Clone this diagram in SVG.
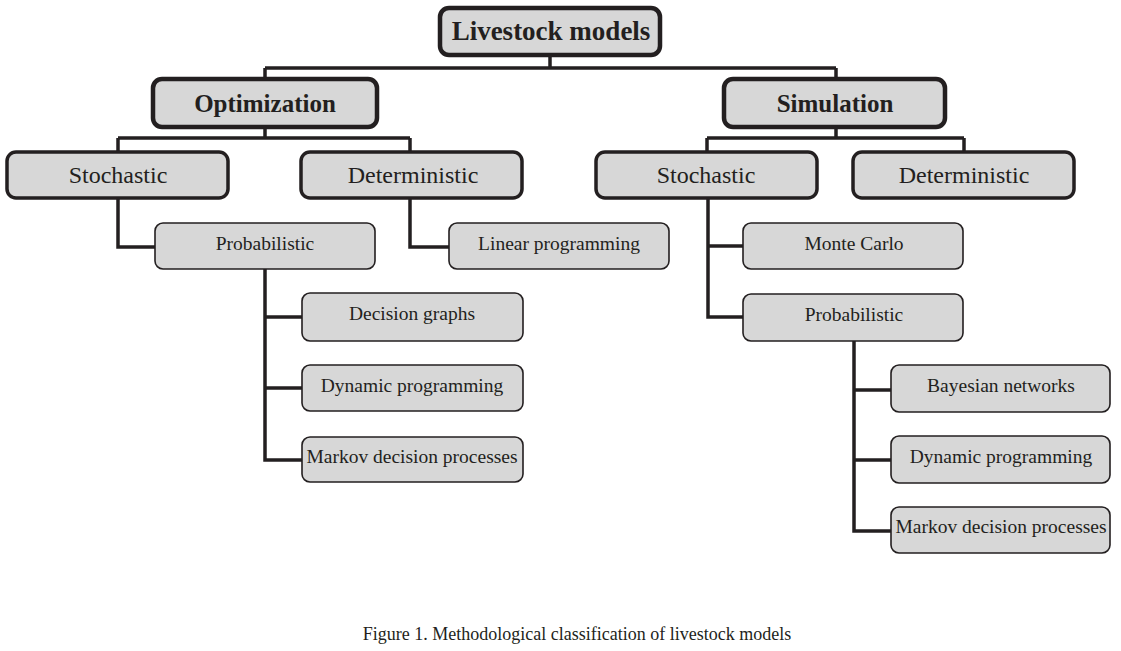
<svg xmlns="http://www.w3.org/2000/svg" width="1121" height="651" viewBox="0 0 1121 651">
<style>
.box{fill:#d7d7d7;stroke:#231f20}
.l1{stroke-width:4.5}
.l2{stroke-width:3.5}
.l3{stroke-width:1.6}
text{font-family:"Liberation Serif","Times New Roman",serif;fill:#231f20;text-anchor:middle;dominant-baseline:central}
.t1{font-size:27px;font-weight:bold}
.t2{font-size:25px;font-weight:bold}
.t3{font-size:24px}
.t4{font-size:19.5px}
.cap{font-size:18px}
#connectors path{fill:none;stroke:#231f20;stroke-width:3.5}
</style>
<rect width="1121" height="651" fill="#ffffff"/>
<g id="connectors">
<path d="M550 55V68M265 68H836M265 68V79M836 68V79"/>
<path d="M265 127V138M118 138H410M118 138V152M410 138V152"/>
<path d="M836 127V138M707 138H964M707 138V152M964 138V152"/>
<path d="M118 198V247H155"/>
<path d="M410 198V247H449"/>
<path d="M265 269V460H302M265 317H302M265 388H302"/>
<path d="M708 199V317H743M708 246H743"/>
<path d="M854 341V531H891M854 390H891M854 460H891"/>
</g>
<g id="livestock"><rect class="box l1" x="440" y="8" width="220" height="47" rx="9"/><text class="t1" x="551" y="31">Livestock models</text></g>
<g id="optimization"><rect class="box l1" x="153" y="79" width="224" height="48" rx="9"/><text class="t2" x="265" y="103">Optimization</text></g>
<g id="simulation"><rect class="box l1" x="724" y="79" width="221" height="48" rx="9"/><text class="t2" x="835" y="103">Simulation</text></g>
<g id="opt-stochastic"><rect class="box l2" x="7" y="152" width="221" height="46" rx="9"/><text class="t3" x="118" y="175">Stochastic</text></g>
<g id="opt-deterministic"><rect class="box l2" x="301" y="152" width="221" height="46" rx="9"/><text class="t3" x="413" y="175">Deterministic</text></g>
<g id="sim-stochastic"><rect class="box l2" x="596" y="152" width="221" height="46" rx="9"/><text class="t3" x="706" y="175">Stochastic</text></g>
<g id="sim-deterministic"><rect class="box l2" x="853" y="152" width="221" height="46" rx="9"/><text class="t3" x="964" y="175">Deterministic</text></g>
<g id="opt-probabilistic"><rect class="box l3" x="155" y="223" width="220" height="46" rx="8"/><text class="t4" x="265" y="243">Probabilistic</text></g>
<g id="linear-programming"><rect class="box l3" x="449" y="223" width="220" height="46" rx="8"/><text class="t4" x="559" y="243">Linear programming</text></g>
<g id="monte-carlo"><rect class="box l3" x="743" y="223" width="220" height="46" rx="8"/><text class="t4" x="854" y="243">Monte Carlo</text></g>
<g id="sim-probabilistic"><rect class="box l3" x="743" y="294" width="220" height="47" rx="8"/><text class="t4" x="854" y="314">Probabilistic</text></g>
<g id="decision-graphs"><rect class="box l3" x="302" y="293" width="221" height="48" rx="8"/><text class="t4" x="412" y="313">Decision graphs</text></g>
<g id="opt-dynamic"><rect class="box l3" x="302" y="365" width="221" height="46" rx="8"/><text class="t4" x="412" y="385">Dynamic programming</text></g>
<g id="opt-markov"><rect class="box l3" x="302" y="437" width="221" height="45" rx="8"/><text class="t4" x="412" y="456">Markov decision processes</text></g>
<g id="bayesian"><rect class="box l3" x="891" y="365" width="219" height="47" rx="8"/><text class="t4" x="1001" y="385">Bayesian networks</text></g>
<g id="sim-dynamic"><rect class="box l3" x="891" y="436" width="219" height="47" rx="8"/><text class="t4" x="1001" y="456">Dynamic programming</text></g>
<g id="sim-markov"><rect class="box l3" x="891" y="507" width="219" height="46" rx="8"/><text class="t4" x="1001" y="526">Markov decision processes</text></g>
<text class="cap" x="577" y="634">Figure 1. Methodological classification of livestock models</text>
</svg>
